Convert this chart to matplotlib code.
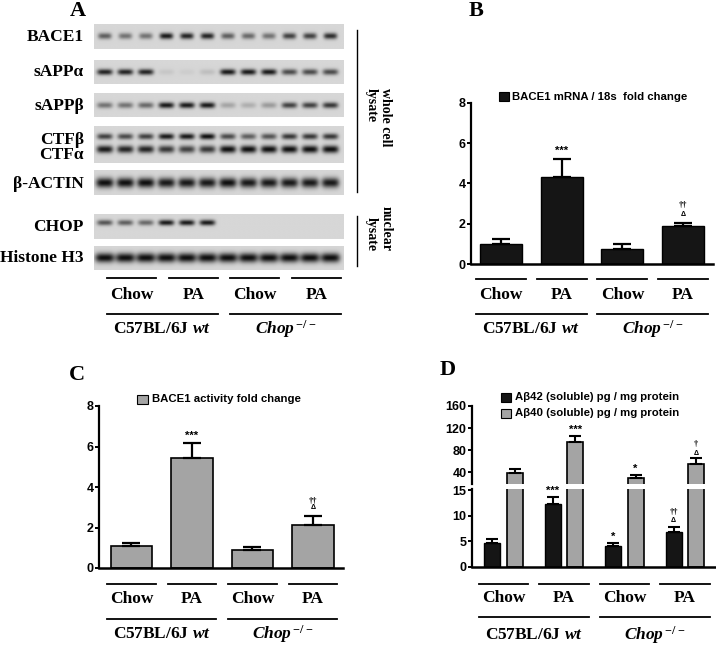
import numpy as np
import matplotlib
matplotlib.use("Agg")
import matplotlib.pyplot as plt
from matplotlib.patches import Rectangle
from matplotlib.lines import Line2D
from matplotlib.transforms import blended_transform_factory

plt.rcParams['font.family'] = ['Liberation Sans', 'DejaVu Sans']
plt.rcParams['mathtext.fontset'] = 'custom'
plt.rcParams['mathtext.rm'] = 'Liberation Serif:bold'
plt.rcParams['mathtext.bf'] = 'Liberation Serif:bold'
plt.rcParams['mathtext.it'] = 'Liberation Serif:italic:bold'

# ---------------- data ----------------
treatments = ["Chow", "PA", "Chow", "PA"]
genotype_labels = [r"C57BL/6J $\mathit{wt}$", r"$\mathit{Chop}^{\,\mathit{-/-}}$"]

blot_labels = ["BACE1", "sAPPα", "sAPPβ", "CTFβ", "CTFα", "β-ACTIN", "CHOP", "Histone H3"]
bace1_bands = [0.6, 0.5, 0.5, 0.95, 0.9, 0.9, 0.6, 0.55, 0.5, 0.75, 0.75, 0.85]
sappa_bands = [0.9, 0.9, 0.9, 0.08, 0.05, 0.12, 0.95, 0.95, 0.95, 0.7, 0.7, 0.7]
sappb_bands = [0.5, 0.5, 0.55, 0.95, 0.95, 0.95, 0.25, 0.2, 0.3, 0.75, 0.75, 0.8]
ctfb_bands = [0.75, 0.7, 0.75, 0.95, 0.95, 1.0, 0.7, 0.6, 0.65, 0.8, 0.8, 0.8]
ctfa_bands = [0.95, 0.9, 0.9, 0.8, 0.75, 0.8, 1.0, 1.0, 1.0, 1.0, 1.0, 1.0]
actin_bands = [1.0, 1.0, 1.0, 0.95, 0.95, 0.95, 1.0, 0.95, 0.95, 0.95, 0.95, 0.95]
chop_bands = [0.65, 0.6, 0.55, 0.95, 0.95, 0.95, 0.0, 0.0, 0.0, 0.0, 0.0, 0.0]
h3_bands = [1.0, 1.0, 1.0, 1.0, 1.0, 1.0, 1.0, 1.0, 1.0, 1.0, 1.0, 1.0]

b_label = "BACE1 mRNA / 18s  fold change"
b_mean = [1.0, 4.34, 0.74, 1.9]
b_err = [0.25, 0.86, 0.26, 0.14]
b_marks = [[], ["***"], [], ["Δ", "††"]]

c_label = "BACE1 activity fold change"
c_mean = [1.09, 5.43, 0.89, 2.12]
c_err = [0.14, 0.74, 0.15, 0.45]
c_marks = [[], ["***"], [], ["Δ", "††"]]

d_labels = ["Aβ42 (soluble) pg / mg protein", "Aβ40 (soluble) pg / mg protein"]
d42_mean = [4.7, 12.2, 4.1, 6.7]
d42_err = [0.65, 1.4, 0.6, 1.1]
d42_marks = [[], ["***"], ["*"], ["Δ", "††"]]
d40_mean = [39.3, 94.3, 30.3, 54.5]
d40_err = [6.7, 11.5, 4.3, 10.8]
d40_marks = [[], ["***"], ["*"], ["Δ", "†"]]

# ---------------- layout helpers ----------------
W, H = 716, 645
fig = plt.figure(figsize=(W / 100, H / 100), dpi=100)
SERIF = 'Liberation Serif'


def fx(x):
    return x / W


def fy(y):
    return 1 - y / H


def add_ax(x0, y0, x1, y1):
    return fig.add_axes([fx(x0), fy(y1), (x1 - x0) / W, (y1 - y0) / H])


def fig_line(x, y, **kw):
    fig.add_artist(Line2D([fx(v) for v in x], [fy(v) for v in y], color='black', **kw))


# ---------------- Panel A ----------------
LX0, LX1 = -0.52, 11.65


def draw_strip(y0, y1, rows):
    ax = add_ax(94.3, y0, 344, y1)
    xs = np.linspace(LX0, LX1, 600)
    ys = np.linspace(0, 1, 90)
    X, Y = np.meshgrid(xs, ys)
    dark = np.zeros_like(X)
    for yc, th, bw, inten in rows:
        for i, a in enumerate(inten):
            dark += a * np.exp(-np.abs((X - i) / bw) ** 4) * np.exp(-((Y - yc) / th) ** 2)
    bg = 0.84
    img = bg - (bg - 0.06) * np.clip(dark, 0, 1)
    ax.imshow(img, extent=[LX0, LX1, 0, 1], origin='lower', cmap='gray',
              vmin=0, vmax=1, aspect='auto', interpolation='bilinear')
    ax.set_xlim(LX0, LX1)
    ax.set_ylim(0, 1)
    ax.set_axis_off()
    return ax


strip_axes = []
strip_axes.append(draw_strip(24, 49.3, [(0.5, 0.12, 0.33, bace1_bands)]))
strip_axes.append(draw_strip(60, 84.3, [(0.48, 0.12, 0.38, sappa_bands)]))
strip_axes.append(draw_strip(92.7, 117.3, [(0.47, 0.12, 0.38, sappb_bands)]))
strip_axes.append(draw_strip(126, 163.3, [(0.70, 0.08, 0.38, ctfb_bands),
                                          (0.36, 0.10, 0.40, ctfa_bands)]))
strip_axes.append(draw_strip(170, 195, [(0.49, 0.2, 0.43, actin_bands)]))
strip_axes.append(draw_strip(214, 239.3, [(0.63, 0.11, 0.38, chop_bands)]))
strip_axes.append(draw_strip(246, 270, [(0.51, 0.2, 0.47, h3_bands)]))

label_y = [37, 72, 106, 140, 155, 184, 227, 258]
for lab, yy in zip(blot_labels, label_y):
    fig.text(fx(84), fy(yy), lab, ha='right', va='center', family=SERIF,
             weight='bold', fontsize=12.5)

fig_line([357, 357], [30, 192], lw=1.0)
fig_line([357, 357], [216, 266], lw=1.0)
fig.text(fx(386), fy(88), "whole cell", rotation=270, ha='center', va='top',
         family=SERIF, weight='bold', fontsize=10)
fig.text(fx(371), fy(88), "lysate", rotation=270, ha='center', va='top',
         family=SERIF, weight='bold', fontsize=10)
fig.text(fx(386), fy(251), "nuclear", rotation=270, ha='center', va='bottom',
         family=SERIF, weight='bold', fontsize=10)
fig.text(fx(371), fy(251), "lysate", rotation=270, ha='center', va='bottom',
         family=SERIF, weight='bold', fontsize=10)


def group_labels(ax, centers, half, y_l1, y_t1, y_l2, y_t2):
    tr = blended_transform_factory(ax.transData, fig.transFigure)
    segs = [(c - half, c + half) for c in centers]
    for (a, b), lab in zip(segs, treatments):
        fig.add_artist(Line2D([a, b], [fy(y_l1)] * 2, color='black', lw=1.3, transform=tr))
        fig.text((a + b) / 2, fy(y_t1), lab, transform=tr, ha='center', va='center',
                 family=SERIF, weight='bold', fontsize=12.5)
    pairs = [(segs[0][0], segs[1][1]), (segs[2][0], segs[3][1])]
    for (a, b), lab in zip(pairs, genotype_labels):
        fig.add_artist(Line2D([a, b], [fy(y_l2)] * 2, color='black', lw=1.3, transform=tr))
        fig.text((a + b) / 2, fy(y_t2), lab, transform=tr, ha='center', va='center',
                 family=SERIF, weight='bold', fontsize=12.5)


lane_groups = [np.mean(range(3 * g, 3 * g + 3)) + 0.3 for g in range(4)]
group_labels(strip_axes[-1], lane_groups, 1.2, 278, 295, 314, 329)


# ---------------- bar panel helpers ----------------
def style_axes(ax, left=True, bottom=True):
    for s in ['top', 'right']:
        ax.spines[s].set_visible(False)
    ax.spines['left'].set_linewidth(1.6)
    ax.spines['bottom'].set_linewidth(1.8)
    if not bottom:
        ax.spines['bottom'].set_visible(False)
    ax.set_xticks([])
    ax.tick_params(axis='y', length=3, width=1.4, pad=1, labelsize=9)
    for t in ax.get_yticklabels():
        t.set_fontweight('bold')
    ax.patch.set_alpha(0)


def add_marks(ax, xs, tops, marks, offsets):
    for x, t, ms in zip(xs, tops, marks):
        for k, m in enumerate(ms):
            if m.startswith('*'):
                fs, off, fam = 8, offsets[0], 'Liberation Sans'
            elif m == 'Δ':
                fs, off, fam = 5, offsets[1], 'Liberation Sans'
            else:
                fs, off, fam = 6, offsets[2], SERIF
            ax.annotate(m, xy=(x, t), xytext=(0, off), textcoords='offset pixels',
                        ha='center', va='center', fontsize=fs, weight='bold',
                        family=fam, annotation_clip=False)


def legend_item(x0, y0, x1, y1, color, text, tx, ty):
    fig.add_artist(Rectangle((fx(x0), fy(y1)), (x1 - x0) / W, (y1 - y0) / H,
                             facecolor=color, edgecolor='black', lw=0.8,
                             transform=fig.transFigure))
    fig.text(fx(tx), fy(ty), text, ha='left', va='center', fontsize=8.2, weight='bold')


# ---------------- Panel B ----------------
xb = np.arange(4)
axb = add_ax(471, 102.7, 713, 264.3)
axb.bar(xb, b_mean, width=0.69, color='#151515', edgecolor='black', lw=1.0, zorder=2)
axb.errorbar(xb, b_mean, yerr=[np.zeros(4), b_err], fmt='none', ecolor='black',
             elinewidth=1.6, capsize=6.5, capthick=1.6, zorder=3)
axb.set_xlim(-0.494, 3.494)
axb.set_ylim(0, 8)
axb.set_yticks([0, 2, 4, 6, 8])
style_axes(axb)
add_marks(axb, xb, np.add(b_mean, b_err), b_marks, (8, 9, 18))
legend_item(498.7, 92, 509, 100.7, '#151515', b_label, 512, 96.5)
group_labels(axb, xb, 0.41, 279, 295, 314, 329)

# ---------------- Panel C ----------------
axc = add_ax(99, 406, 343, 568)
axc.bar(xb, c_mean, width=0.68, color='#a4a4a4', edgecolor='black', lw=1.2, zorder=2)
axc.errorbar(xb, c_mean, yerr=[np.zeros(4), c_err], fmt='none', ecolor='black',
             elinewidth=1.6, capsize=6.5, capthick=1.6, zorder=3)
axc.set_xlim(-0.537, 3.496)
axc.set_ylim(0, 8)
axc.set_yticks([0, 2, 4, 6, 8])
style_axes(axc)
add_marks(axc, xb, np.add(c_mean, c_err), c_marks, (7, 8, 15))
legend_item(137, 395, 148, 403.5, '#a4a4a4', c_label, 152, 399)
group_labels(axc, xb, 0.40, 584, 599, 619, 634)

# ---------------- Panel D ----------------
off, bw = 0.185, 0.265
axd_lo = add_ax(472, 489, 715, 566.7)
axd_hi = add_ax(472, 406, 715, 484.3)
for ax in (axd_lo, axd_hi):
    ax.bar(xb - off, d42_mean, width=bw, color='#151515', edgecolor='black', lw=1.0, zorder=2)
    ax.bar(xb + off, d40_mean, width=bw, color='#a4a4a4', edgecolor='black', lw=1.2, zorder=2)
    ax.errorbar(xb - off, d42_mean, yerr=[np.zeros(4), d42_err], fmt='none', ecolor='black',
                elinewidth=1.5, capsize=4.5, capthick=1.5, zorder=3)
    ax.errorbar(xb + off, d40_mean, yerr=[np.zeros(4), d40_err], fmt='none', ecolor='black',
                elinewidth=1.5, capsize=4.5, capthick=1.5, zorder=3)
    ax.set_xlim(-0.52, 3.5)
axd_lo.set_ylim(0, 15.2)
axd_lo.set_yticks([0, 5, 10, 15])
axd_hi.set_ylim(18.3, 160)
axd_hi.set_yticks([40, 80, 120, 160])
style_axes(axd_lo)
style_axes(axd_hi, bottom=False)
add_marks(axd_lo, xb - off, np.add(d42_mean, d42_err), d42_marks, (6, 6, 15))
add_marks(axd_hi, xb + off, np.add(d40_mean, d40_err), d40_marks, (6, 5, 14))
legend_item(501, 393, 511, 402, '#151515', d_labels[0], 515, 397.5)
legend_item(501, 409, 511, 417.5, '#a4a4a4', d_labels[1], 515, 413)
group_labels(axd_lo, xb, 0.41, 584, 598, 617, 635)

# ---------------- panel letters ----------------
for letter, (x, y) in zip("ABCD", [(78, 11), (476, 11), (77, 375), (448, 370)]):
    fig.text(fx(x), fy(y), letter, ha='center', va='center', family=SERIF,
             weight='bold', fontsize=16)

fig.savefig("out.png", dpi=100, facecolor='white')
